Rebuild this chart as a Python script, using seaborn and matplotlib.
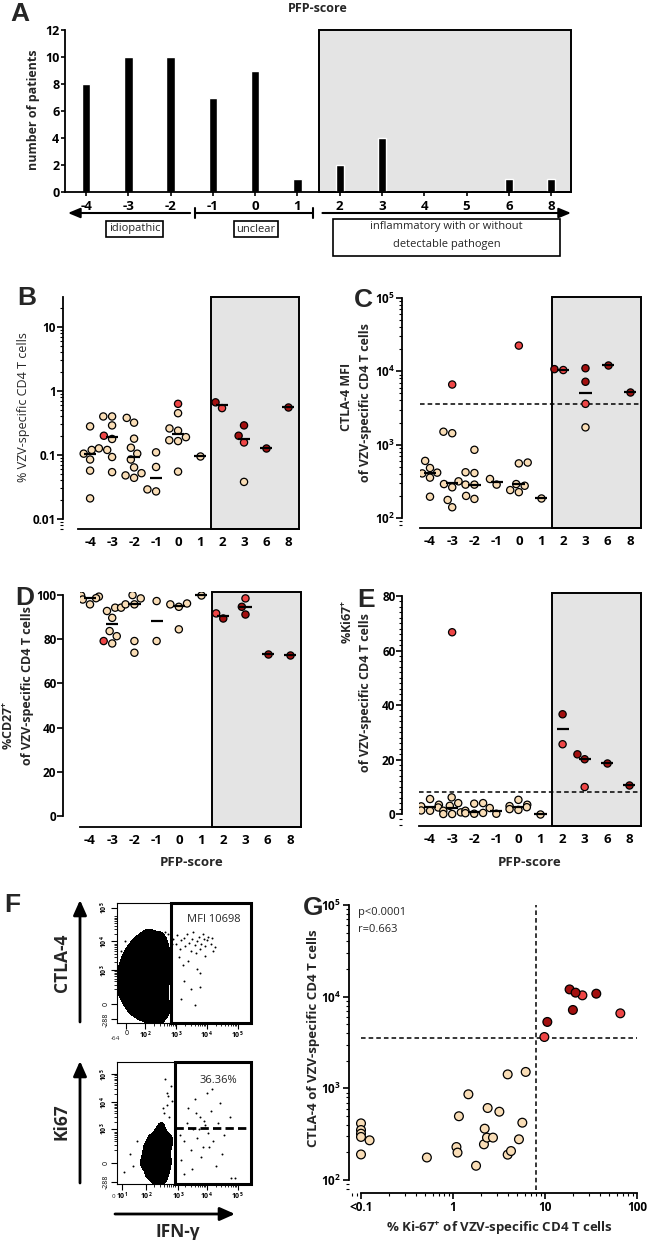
import numpy as np
import pandas as pd
import matplotlib
matplotlib.use("Agg")
import matplotlib.pyplot as plt
import matplotlib.ticker as mt
from matplotlib.patches import Rectangle, FancyArrowPatch
from matplotlib.colors import ListedColormap
from matplotlib.transforms import blended_transform_factory
import seaborn as sns

# ---------------- data ----------------
pfp_scores_A = ["-4", "-3", "-2", "-1", "0", "1", "2", "3", "4", "5", "6", "8"]
n_patients = [8, 10, 10, 7, 9, 1, 2, 4, 0, 0, 1, 1]

scores = ["-4", "-3", "-2", "-1", "0", "1", "2", "3", "6", "8"]

# B: % VZV-specific CD4 T cells
B_tan = {"-4": [0.28, 0.127, 0.12, 0.105, 0.085, 0.057, 0.021],
         "-3": [0.40, 0.40, 0.29, 0.178, 0.12, 0.093, 0.054],
         "-2": [0.38, 0.32, 0.18, 0.13, 0.105, 0.085, 0.064, 0.052, 0.048, 0.044],
         "-1": [0.11, 0.065, 0.029, 0.027],
         "0": [0.45, 0.26, 0.24, 0.19, 0.17, 0.165, 0.055],
         "1": [0.098],
         "3": [0.038]}
B_red = {"-3": [0.20], "0": [0.63], "2": [0.54], "3": [0.157]}
B_dark = {"2": [0.665], "3": [0.29, 0.20], "6": [0.13], "8": [0.57]}

# C: CTLA-4 MFI
C_tan = {"-4": [600, 480, 415, 405, 355, 195],
         "-3": [1500, 1430, 316, 290, 262, 176, 140],
         "-2": [850, 420, 410, 285, 285, 200, 182],
         "-1": [340, 285],
         "0": [570, 555, 290, 275, 240, 225],
         "1": [187],
         "3": [1720]}
C_red = {"-3": [6600], "0": [22400], "2": [10400], "3": [3600]}
C_dark = {"2": [10700], "3": [11000, 7200], "6": [12200], "8": [5250]}
C_cutoff = 3600

# D: %CD27+
D_tan = {"-4": [99.8, 99.3, 98.6, 98.0, 95.8],
         "-3": [94.3, 94.3, 92.8, 89.7, 83.7, 81.4, 78.1],
         "-2": [100, 98.5, 95.8, 95.8, 79.2, 73.9],
         "-1": [97.3, 79.2],
         "0": [96.2, 95.8, 94.7, 84.5],
         "1": [100]}
D_red = {"-3": [79.2], "2": [91.7], "3": [98.5]}
D_dark = {"2": [89.4], "3": [94.7, 91.2], "6": [73.3], "8": [72.7]}

# E: %Ki67+
E_tan = {"-4": [5.5, 3.4, 2.8, 2.4, 1.3, 1.2],
         "-3": [6.1, 4.0, 3.0, 1.2, 0.6, 0.0, 0.0],
         "-2": [4.0, 3.8, 1.2, 0.4, 0.3, 0.1],
         "-1": [2.2, 0.1],
         "0": [5.2, 3.4, 2.9, 2.5, 1.8, 1.5],
         "1": [0.0]}
E_red = {"-3": [66.7], "2": [25.6], "3": [9.9]}
E_dark = {"2": [36.6], "3": [21.9, 20.1], "6": [18.7], "8": [10.6]}
E_cutoff = 8.0

# G: Ki-67 vs CTLA-4
G_tan_ki67 = [0.1, 0.1, 0.1, 0.1, 0.124, 0.1, 0.52, 1.09, 1.12, 1.16, 1.47, 1.78, 2.21, 2.17,
              2.34, 2.38, 2.72, 3.19, 3.93, 3.93, 4.27, 5.21, 5.67, 6.17]
G_tan_ctla4 = [415, 351, 320, 295, 271, 190, 176, 229, 199, 496, 861, 143, 363, 245,
               290, 610, 290, 556, 1420, 189, 207, 278, 422, 1510]
G_red_ki67 = [25.5, 65.9, 9.84]
G_red_ctla4 = [10340, 6580, 3630]
G_dark_ki67 = [18.5, 21.5, 36.1, 20.1, 10.6]
G_dark_ctla4 = [12000, 11060, 10780, 7160, 5300]
G_ki67_cutoff = 8.05
G_ctla4_cutoff = 3570

# F: flow cytometry (approximate event positions read off, scaled 0-1 in plot)
F1_blob_x = [0.04, 0.05, 0.08, 0.09, 0.10, 0.12, 0.14, 0.15, 0.16, 0.18, 0.19, 0.20, 0.22, 0.23,
             0.24, 0.26, 0.27, 0.28, 0.30, 0.31, 0.32, 0.34, 0.35, 0.36, 0.37, 0.30, 0.25, 0.20,
             0.14, 0.33]
F1_blob_y = [0.30, 0.45, 0.22, 0.55, 0.38, 0.15, 0.62, 0.30, 0.48, 0.10, 0.66, 0.38, 0.22, 0.55,
             0.70, 0.08, 0.40, 0.62, 0.18, 0.50, 0.68, 0.28, 0.60, 0.12, 0.45, 0.05, 0.12, 0.28,
             0.42, 0.38]
F1_ev_x = [0.42, 0.44, 0.45, 0.47, 0.48, 0.50, 0.51, 0.52, 0.54, 0.55, 0.56, 0.57, 0.58, 0.60,
           0.61, 0.62, 0.63, 0.64, 0.65, 0.66, 0.67, 0.68, 0.70, 0.71, 0.73, 0.46, 0.49, 0.53,
           0.59, 0.62, 0.66, 0.72, 0.50, 0.55, 0.60, 0.48, 0.58, 0.62, 0.03, 0.06, 0.02, 0.38,
           0.40, 0.41, 0.36]
F1_ev_y = [0.70, 0.66, 0.73, 0.62, 0.69, 0.71, 0.64, 0.74, 0.67, 0.60, 0.70, 0.76, 0.65, 0.68,
           0.72, 0.62, 0.66, 0.74, 0.70, 0.64, 0.69, 0.72, 0.66, 0.71, 0.63, 0.55, 0.48, 0.52,
           0.58, 0.42, 0.56, 0.60, 0.35, 0.28, 0.45, 0.20, 0.15, 0.30, 0.60, 0.68, 0.50, 0.74,
           0.70, 0.66, 0.76]
F2_blob_x = [0.20, 0.22, 0.24, 0.25, 0.27, 0.28, 0.30, 0.30, 0.32, 0.33, 0.34, 0.35, 0.36, 0.37,
             0.38, 0.26, 0.31, 0.35, 0.29, 0.33, 0.24, 0.39]
F2_blob_y = [0.18, 0.28, 0.10, 0.35, 0.20, 0.06, 0.40, 0.15, 0.30, 0.04, 0.22, 0.38, 0.12, 0.28,
             0.18, 0.25, 0.10, 0.08, 0.32, 0.45, 0.15, 0.35]
F2_ev_x = [0.32, 0.35, 0.37, 0.38, 0.40, 0.36, 0.39, 0.34, 0.41, 0.37, 0.33, 0.10, 0.12, 0.15,
           0.05, 0.47, 0.50, 0.52, 0.55, 0.57, 0.60, 0.62, 0.64, 0.66, 0.68, 0.70, 0.72, 0.75,
           0.78, 0.48, 0.53, 0.58, 0.63, 0.67, 0.74, 0.80, 0.85, 0.56, 0.61, 0.69, 0.77, 0.59,
           0.65, 0.71, 0.50, 0.84, 0.88]
F2_ev_y = [0.50, 0.58, 0.65, 0.72, 0.80, 0.86, 0.55, 0.62, 0.68, 0.75, 0.45, 0.25, 0.15, 0.35,
           0.10, 0.40, 0.35, 0.50, 0.28, 0.45, 0.38, 0.55, 0.30, 0.48, 0.42, 0.60, 0.35, 0.50,
           0.25, 0.20, 0.62, 0.70, 0.22, 0.75, 0.15, 0.40, 0.05, 0.12, 0.45, 0.30, 0.66, 0.58,
           0.52, 0.78, 0.08, 0.55, 0.05]
F1_xticklabels = ["0", "$10^2$", "$10^3$", "$10^4$", "$10^5$"]
F1_yticklabels = ["-288", "0", "$10^3$", "$10^4$", "$10^5$"]
F2_xticklabels = ["$10^1$", "$10^2$", "$10^3$", "$10^4$", "$10^5$"]
F2_yticklabels = ["-288", "0", "$10^3$", "$10^4$", "$10^5$"]

# ---------------- style ----------------
sns.set_theme(style="ticks")
plt.rcParams["font.family"] = ["Open Sans", "DejaVu Sans"]
plt.rcParams["font.weight"] = "bold"
plt.rcParams["mathtext.fontset"] = "custom"
plt.rcParams["mathtext.rm"] = "Open Sans"
plt.rcParams["mathtext.bf"] = "Open Sans:bold"
plt.rcParams["mathtext.default"] = "bf"
plt.rcParams["axes.linewidth"] = 1.3
plt.rcParams["xtick.color"] = "black"
plt.rcParams["ytick.color"] = "black"
plt.rcParams["axes.edgecolor"] = "black"

TAN, RED, DARK = "#F9DDB6", "#EE4646", "#A3100F"
GRAY = "#E4E4E4"
palette = {"tan": TAN, "red": RED, "dark": DARK}

W, H = 647, 1240
fig = plt.figure(figsize=(W / 100, H / 100), dpi=100)
fig.patch.set_facecolor("white")


def axpx(x0, y0, x1, y1):
    return fig.add_axes([x0 / W, 1 - y1 / H, (x1 - x0) / W, (y1 - y0) / H])


def T(px, py, s, **kw):
    kw.setdefault("ha", "center")
    kw.setdefault("va", "center")
    return fig.text(px / W, 1 - py / H, s, **kw)


LETTER = dict(fontsize=19, fontweight="bold", family=["Liberation Sans", "DejaVu Sans"])

# ---------------- Panel A ----------------
axA = axpx(65, 30, 571, 192)
sns.barplot(x=pfp_scores_A, y=n_patients, order=pfp_scores_A, color="black", saturation=1,
            width=0.2, ax=axA, zorder=2)
axA.set_xlim(-0.5, 11.47)
axA.set_ylim(0, 12)
axA.add_patch(Rectangle((5.5, 0), 11.47 - 5.5, 12, facecolor=GRAY, edgecolor="black",
                        lw=1.4, zorder=0.5, clip_on=False))
axA.set_yticks(range(0, 13, 2))
axA.tick_params(axis="y", length=3, width=1.2, labelsize=9, pad=1)
axA.tick_params(axis="x", length=3, width=1.2, labelsize=9.5, pad=3)
sns.despine(ax=axA)
axA.set_xlabel("")
axA.set_ylabel("")
T(33, 110, "number of patients", rotation=90, fontsize=9)
T(318, 9, "PFP-score", fontsize=9)
T(20, 14, "A", **LETTER)

btA = blended_transform_factory(axA.transData, axA.transAxes)
ya = (192 - 213) / 162
arr = dict(arrowstyle="-|>,head_length=0.6,head_width=0.25", lw=1.5, color="black",
           shrinkA=0, shrinkB=0)
axA.annotate("", xy=(-0.43, ya), xytext=(2.46, ya), xycoords=btA, textcoords=btA,
             arrowprops=arr, annotation_clip=False)
axA.annotate("", xy=(11.47, ya), xytext=(5.59, ya), xycoords=btA, textcoords=btA,
             arrowprops=arr, annotation_clip=False)
axA.annotate("", xy=(5.36, ya), xytext=(2.58, ya), xycoords=btA, textcoords=btA,
             arrowprops=dict(arrowstyle="|-|,widthA=0.3,widthB=0.3", lw=1.5, color="black",
                             shrinkA=0, shrinkB=0), annotation_clip=False)
boxkw = dict(boxstyle="square,pad=0.25", facecolor="white", edgecolor="black", lw=1.2)
T(134.5, 229, "idiopathic", fontsize=8, fontweight="normal", bbox=boxkw)
T(256, 229, "unclear", fontsize=8, fontweight="normal", bbox=boxkw)
fig.add_artist(Rectangle((333 / W, 1 - 256 / H), (560 - 333) / W, 37 / H, transform=fig.transFigure,
                         facecolor="white", edgecolor="black", lw=1.2))
T(446.5, 226, "inflammatory with or without", fontsize=8, fontweight="normal")
T(446.5, 245, "detectable pathogen", fontsize=8, fontweight="normal")


# ---------------- dot panels ----------------
def make_df(tan, red, dark):
    rows = []
    for grp, d in (("tan", tan), ("red", red), ("dark", dark)):
        for s, vals in d.items():
            for v in vals:
                rows.append((s, v, grp))
    return pd.DataFrame(rows, columns=["score", "value", "group"])


def dot_panel(ax, df, log, ylim, bounds, xlim, offset):
    if log:
        ax.set_yscale("log")
    ax.set_ylim(*ylim)
    ax.set_xlim(*xlim)
    sns.swarmplot(data=df, x="score", y="value", hue="group", order=scores,
                  hue_order=["tan", "red", "dark"], palette=palette, size=5.2,
                  edgecolor="black", linewidth=0.9, legend=False, ax=ax, zorder=3,
                  warn_thresh=1.0)
    sns.boxplot(data=df, x="score", y="value", order=scores, showbox=False, showcaps=False,
                showfliers=False, whis=0, width=0.55,
                medianprops=dict(color="black", linewidth=1.6, solid_capstyle="butt", zorder=5),
                whiskerprops=dict(linewidth=0), ax=ax)
    ax.set_ylim(*ylim)
    ax.set_xlim(*xlim)
    bt = blended_transform_factory(ax.transData, ax.transAxes)
    ax.add_patch(Rectangle((5.5, 0), xlim[1] - 5.5, 1, transform=bt, facecolor=GRAY,
                           edgecolor="black", lw=1.4, zorder=0.5, clip_on=False))
    sns.despine(ax=ax, offset={"left": offset})
    ax.spines["left"].set_bounds(*bounds)
    ax.tick_params(axis="x", length=0, labelsize=9.5, pad=5)
    ax.tick_params(axis="y", which="major", length=4, width=1.2, labelsize=8.5, pad=1)
    ax.tick_params(axis="y", which="minor", length=2, width=0.8)
    ax.set_xlabel("")
    ax.set_ylabel("")


# B
axB = axpx(78, 297, 299, 529)
dot_panel(axB, make_df(B_tan, B_red, B_dark), True, (10 ** -2.156, 29.4), (0.01, 29.4),
          (-0.55, 9.5), 11)
axB.set_yticks([0.01, 0.1, 1, 10], labels=["0.01", "0.1", "1", "10"])
axB.yaxis.set_minor_locator(mt.LogLocator(base=10, subs=np.arange(2, 10)))
axB.yaxis.set_minor_formatter(mt.NullFormatter())
T(24, 407, "% VZV-specific CD4 T cells", rotation=90, fontsize=9, fontweight="normal")
T(27, 298, "B", **LETTER)

# C
axC = axpx(420, 297, 641, 528)
dot_panel(axC, make_df(C_tan, C_red, C_dark), True, (73, 1.03e5), (100, 1e5), (-0.45, 9.5), 13)
axC.axhline(C_cutoff, color="black", ls=(0, (3, 2)), lw=1.1, zorder=2)
axC.set_yticks([1e2, 1e3, 1e4, 1e5], labels=["$10^2$", "$10^3$", "$10^4$", "$10^5$"])
axC.yaxis.set_minor_locator(mt.LogLocator(base=10, subs=np.arange(2, 10)))
axC.yaxis.set_minor_formatter(mt.NullFormatter())
T(347, 397, "CTLA-4 MFI", rotation=90, fontsize=9)
T(366, 403, "of VZV-specific CD4 T cells", rotation=90, fontsize=9)
T(363, 300, "C", **LETTER)

# D
axD = axpx(80, 592, 301, 827)
dot_panel(axD, make_df(D_tan, D_red, D_dark), False, (-5, 101.4), (0, 100), (-0.45, 9.5), 12)
axD.set_yticks(range(0, 101, 20))
T(9, 725, "%CD27$^{+}$", rotation=90, fontsize=9)
T(28, 686, "of VZV-specific CD4 T cells", rotation=90, fontsize=9)
T(192, 862, "PFP-score", fontsize=9.5)
T(25, 598, "D", **LETTER)

# E
axE = axpx(419, 593, 641, 826)
dot_panel(axE, make_df(E_tan, E_red, E_dark), False, (-4.4, 81.1), (0, 80), (-0.5, 9.55), 12)
axE.axhline(E_cutoff, color="black", ls=(0, (3, 2)), lw=1.1, zorder=2)
axE.set_yticks(range(0, 81, 20))
axE.yaxis.set_minor_locator(mt.MultipleLocator(2))
T(347, 622, "%Ki67$^{+}$", rotation=90, fontsize=9)
T(366, 693, "of VZV-specific CD4 T cells", rotation=90, fontsize=9)
T(530, 862, "PFP-score", fontsize=9.5)
T(366, 600, "E", **LETTER)


# ---------------- Panel F ----------------
def flow_panel(ax, bx, by, ex, ey, xt, xl, yt, yl, gate_x0):
    blob = pd.DataFrame({"u": bx, "v": by})
    sns.kdeplot(data=blob, x="u", y="v", fill=True, levels=[0.08, 1.0],
                cmap=ListedColormap(["black", "black"]), bw_adjust=0.62, ax=ax, zorder=2)
    ev = pd.DataFrame({"u": ex, "v": ey})
    sns.scatterplot(data=ev, x="u", y="v", color="black", s=2, linewidth=0, ax=ax, zorder=3)
    ax.set_xlim(0, 1)
    ax.set_ylim(0, 1)
    for sp in ax.spines.values():
        sp.set_visible(True)
        sp.set_linewidth(0.8)
    ax.add_patch(Rectangle((gate_x0, 0), 1 - gate_x0, 1, transform=ax.transAxes, fill=False,
                           edgecolor="black", lw=2.2, zorder=4, clip_on=False))
    ax.set_xticks(xt, labels=xl)
    ax.set_yticks(yt, labels=yl)
    ax.tick_params(axis="both", length=4, width=0.8, labelsize=5, pad=1)
    for lab in ax.get_yticklabels():
        lab.set_rotation(90)
        lab.set_va("center")
        lab.set_fontweight("normal")
    for lab in ax.get_xticklabels():
        lab.set_fontweight("normal")
    minors = [d + 0.23 * np.log10(k) for d in (0.21, 0.44, 0.67) for k in range(2, 10)]
    ax.set_xticks(minors, minor=True)
    ax.set_yticks(minors, minor=True)
    ax.tick_params(axis="both", which="minor", length=2.5, width=0.6)
    ax.set_xlabel("")
    ax.set_ylabel("")


axF1 = axpx(117, 903, 251, 1023)
flow_panel(axF1, F1_blob_x, F1_blob_y, F1_ev_x, F1_ev_y,
           [0.07, 0.21, 0.44, 0.67, 0.90], F1_xticklabels,
           [0.03, 0.16, 0.44, 0.68, 0.96], F1_yticklabels, 0.403)
axF1.text(0.02, -0.13, "-64", transform=axF1.transAxes, fontsize=4.5, fontweight="normal",
          ha="right", va="center")
axF1.text(0.72, 0.86, "MFI 10698", transform=axF1.transAxes, fontsize=8, fontweight="normal",
          ha="center", va="center", zorder=5)

axF2 = axpx(117, 1062, 251, 1184)
flow_panel(axF2, F2_blob_x, F2_blob_y, F2_ev_x, F2_ev_y,
           [0.04, 0.22, 0.455, 0.67, 0.90], F2_xticklabels,
           [0.02, 0.17, 0.45, 0.67, 0.90], F2_yticklabels, 0.435)
axF2.text(-0.01, -0.1, "0", transform=axF2.transAxes, fontsize=4.5, fontweight="normal",
          ha="right", va="center")
axF2.plot([0.435, 1.0], [0.46, 0.46], color="black", lw=2, ls=(0, (3, 1.5)), zorder=5)
axF2.text(0.76, 0.845, "36.36%", transform=axF2.transAxes, fontsize=8, fontweight="normal",
          ha="center", va="center", zorder=5)

farr = dict(arrowstyle="-|>,head_length=0.9,head_width=0.4", lw=2, color="black",
            shrinkA=0, shrinkB=0, mutation_scale=10, transform=fig.transFigure)
fig.add_artist(FancyArrowPatch((80 / W, 1 - 1022 / H), (80 / W, 1 - 900 / H), **farr))
fig.add_artist(FancyArrowPatch((80 / W, 1 - 1183 / H), (80 / W, 1 - 1061 / H), **farr))
fig.add_artist(FancyArrowPatch((115 / W, 1 - 1214 / H), (235 / W, 1 - 1214 / H), **farr))
T(62, 963, "CTLA-4", rotation=90, fontsize=12.5)
T(62, 1122, "Ki67", rotation=90, fontsize=12.5)
T(178, 1232, "IFN-γ", fontsize=12.5)
T(12, 905, "F", **LETTER)

# ---------------- Panel G ----------------
axG = axpx(349, 905, 640, 1193)
axG.set_xscale("log")
axG.set_yscale("log")
dfG = pd.DataFrame({
    "ki67": G_tan_ki67 + G_red_ki67 + G_dark_ki67,
    "ctla4": G_tan_ctla4 + G_red_ctla4 + G_dark_ctla4,
    "group": ["tan"] * len(G_tan_ki67) + ["red"] * len(G_red_ki67) + ["dark"] * len(G_dark_ki67),
})
sns.scatterplot(data=dfG, x="ki67", y="ctla4", hue="group", palette=palette, s=40,
                edgecolor="black", linewidth=0.9, legend=False, ax=axG, zorder=3)
axG.set_xlim(10 ** (-1 - 12 / 92), 10 ** (2 + 3 / 92))
axG.set_ylim(10 ** (2 - 13 / 91.7), 1e5)
axG.vlines(G_ki67_cutoff, 10 ** (2 - 10 / 91.7), 1e5, color="black", ls=(0, (3, 2)), lw=1.1, zorder=2)
axG.hlines(G_ctla4_cutoff, 0.1, 100, color="black", ls=(0, (3, 2)), lw=1.1, zorder=2)
sns.despine(ax=axG)
axG.spines["left"].set_bounds(100, 1e5)
axG.spines["bottom"].set_bounds(0.1, 100)
axG.set_xticks([0.1, 1, 10, 100], labels=["<0.1", "1", "10", "100"])
axG.set_yticks([1e2, 1e3, 1e4, 1e5], labels=["$10^2$", "$10^3$", "$10^4$", "$10^5$"])
axG.xaxis.set_minor_locator(mt.LogLocator(base=10, subs=np.arange(2, 10)))
axG.yaxis.set_minor_locator(mt.LogLocator(base=10, subs=np.arange(2, 10)))
axG.xaxis.set_minor_formatter(mt.NullFormatter())
axG.yaxis.set_minor_formatter(mt.NullFormatter())
axG.tick_params(axis="both", which="major", length=4, width=1.2, labelsize=8.5, pad=2)
axG.tick_params(axis="both", which="minor", length=2, width=0.8)
axG.set_xlabel("")
axG.set_ylabel("")
T(358, 913, "p<0.0001", fontsize=8, fontweight="normal", ha="left")
T(358, 929, "r=0.663", fontsize=8, fontweight="normal", ha="left")
T(500, 1228, "% Ki-67$^{+}$ of VZV-specific CD4 T cells", fontsize=9.5)
T(313, 1038, "CTLA-4 of VZV-specific CD4 T cells", rotation=90, fontsize=9.5)
T(313, 908, "G", **LETTER)

fig.savefig("out.png", dpi=100, facecolor="white")
